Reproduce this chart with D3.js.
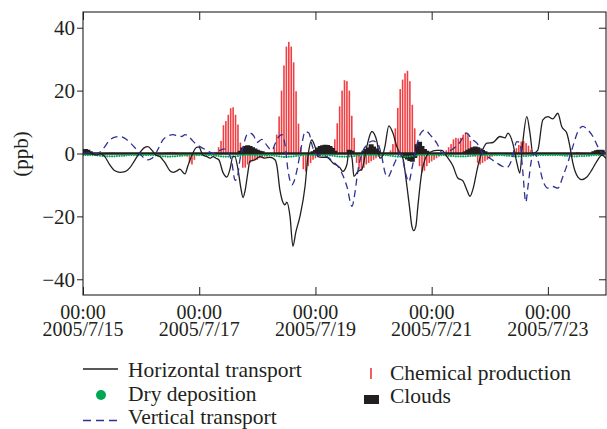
<!DOCTYPE html>
<html>
<head>
<meta charset="utf-8">
<script src="https://cdn.jsdelivr.net/npm/d3@7"></script>
<style>
  body { margin: 0; background: #fff; }
  text { font-family: "Liberation Serif", "Times New Roman", serif; fill: #231f20; }
</style>
</head>
<body>
<svg id="chart" width="607" height="429"></svg>
<script>
// Ozone budget terms at the site, 2005/7/15 00:00 – 2005/7/24 00:00 (ppb per hour)
const startTime = new Date(2005, 6, 15, 0, 0);
const endTime = new Date(2005, 6, 24, 0, 0);
const tickDays = [15, 17, 19, 21, 23];
const tickTimeLabel = "00:00";
const tickDateLabels = ["2005/7/15", "2005/7/17", "2005/7/19", "2005/7/21", "2005/7/23"];
const yTicks = [-40, -20, 0, 20, 40];
const yLabel = "(ppb)";

// [hours since start, ppb]
const horizontalTransport = [
  [0,0],[3,0],[5.8,-0.5],[7,0],[9,-1],[11,-3.5],[13.2,-5.5],[15.3,-6],[17.3,-5.8],[19.4,-4.5],
  [21.5,-2],[23.5,0.3],[25.2,1.8],[26.8,2.2],[28.5,1],[30.1,-0.5],[31.8,-1],[33.9,-3],[35.9,-5.5],
  [37.2,-6],[38.8,-5.5],[40,-5],[42.1,-6.5],[43.3,-4],[45,-0.5],[47.1,2],[47.9,2],[49.5,-0.5],
  [51.2,-1],[52.4,-1.5],[53.7,-1],[54.9,-1.5],[56.1,-2],[57.8,-6],[59.4,-7.5],[60.7,-5],[61.9,-1],
  [62.7,-1],[64,-5],[65.2,-11],[66.1,-14],[66.9,-12],[68.1,-6],[68.9,-2.5],[71,-2],[73.1,-1],
  [75.1,-1.5],[77.2,-1.2],[79.3,-2],[80.1,-4],[81.3,-11.5],[82.2,-14.7],[83.4,-16.3],[84.2,-15.5],
  [85.5,-20],[86.7,-29.5],[87.9,-25],[89.6,-20],[91.7,-10.5],[92.9,-1],[94.5,4.3],[95.8,2.2],
  [97,-1],[98.7,-1.2],[100.7,-1.2],[103.2,-3],[106.1,-4.5],[107.3,-5.7],[109,-3.5],[109.8,0.6],
  [111.1,-1.5],[111.9,-7.3],[113.5,-5.7],[115.2,-5],[117.2,2.2],[119.3,7],[121.4,3.8],[122.6,-1.5],
  [123.4,-1.2],[124.7,2.2],[126.3,8.8],[128,6.5],[129.6,2.2],[130.9,0],[132.1,-1.5],[133.8,-10.5],
  [135,-18],[135.8,-23],[136.6,-24.5],[137.5,-23],[138.3,-16.8],[139.9,-6],[141.2,-2],[143.2,0.3],
  [146.1,1],[148.2,1],[150.3,-1],[152.8,-4],[154.8,-7.8],[156.9,-8.7],[158.5,-11.5],[159.8,-13.6],
  [161,-11.5],[163.1,-4],[165.1,1.2],[166.8,3.3],[169.3,3.5],[172.2,5.4],[174.3,5],[175.5,6.5],
  [177.5,3.3],[179.2,-3],[180.4,-6.2],[181.6,3.3],[183.3,11.7],[184.6,6.5],[185.8,0],[187.8,1],
  [189.9,10.7],[192,11.7],[194,11],[196.1,12.8],[197.7,8.6],[199.8,6.5],[201.1,2.2],[202.3,-3],
  [204.4,-7.5],[206,-8.3],[208.1,-7.5],[210.1,-5.3],[212.2,-2.5],[214.3,-0.5],[216,-1.5]
];

const verticalTransport = [
  [0,0],[2.9,0.3],[5.8,0],[8.3,1.5],[11.1,4.3],[13.2,5.2],[15.3,5.4],[17.3,4.8],[19.4,3.5],
  [21.5,1.8],[23.5,0],[25.2,-1.5],[26.8,-2],[28.5,-1.5],[29.7,-0.5],[31.4,2],[33,4.3],[35.1,5.6],
  [37.2,6],[39.2,5.5],[40.9,5.4],[42.1,6],[43.8,5.3],[45,4.3],[46.7,3],[48.3,2.2],[51.2,1],
  [53.7,0],[55.7,0.6],[58.2,1.5],[60.3,0],[61.5,-3],[62.8,-8.5],[63.6,-8],[64.8,-2],[66.1,2],
  [67.7,6],[68.9,6.5],[70.6,5.5],[71.8,3.5],[73.9,4.5],[76,2.5],[78,1],[79.3,3],[80.9,5.4],
  [82.2,6],[83.4,3],[84.6,-5],[86.3,-10],[87.1,-9],[88.3,-5.5],[90.4,3],[91.7,7],[93.3,6.5],
  [94.5,3],[95.8,0],[97.8,-0.5],[100.7,-1],[103.2,-2.5],[106.1,-5],[109,-10.5],[111.1,-16.8],
  [112.3,-12.5],[113.5,-5.7],[115.2,0],[117.6,3],[119.7,4],[121.8,3],[123.4,-1],[124.7,-6],
  [125.9,-7.5],[127.6,-5],[129.6,-1.5],[130.9,0],[132.1,-2],[133.3,-6.5],[134.6,-9],[135.8,-5],
  [137.1,0],[138.3,4],[139.5,6.5],[141.2,7.5],[143.3,6],[146.1,3.3],[148.6,0],[150.7,0.5],
  [152.3,1.2],[155.6,3.5],[158.5,6.5],[160.6,4.5],[162.7,3.3],[165.1,0],[168,-1.5],[170.9,-3],
  [173,-4],[175,-4.5],[177.1,-2],[179.2,3.8],[180.4,3.5],[181.6,-5.5],[182.9,-15.5],[183.7,-11],
  [185.4,-1.5],[186.6,0],[187.8,-2],[189.9,-8.5],[192,-11],[194,-10.5],[196.1,-11],[198.2,-7.3],
  [200.2,-3],[202.3,2.2],[204.4,7],[206.4,8.6],[208.5,7.5],[210.6,5.4],[212.6,2.2],[214.7,0],[216,0.3]
];

// Hourly values, one row per day
const chemicalProduction = [
  0.5,0.3,-0.2,0,0,0,0,0,0,0,0.2,0.3,0.3,0.3,0.2,0.1,0,0,-0.2,-0.3,-0.3,-0.2,-0.1,0,
  0,0,0,0,0,0,0,0,0,0.2,0.3,0.4,0.5,0.5,0.4,0.3,0.1,0,-0.3,-1,-3,-3.5,-2,-0.5,
  -0.3,0,0,0,0,0,0,0.5,2,4,9,10.3,12.3,14.4,14.7,12.3,9.2,3.5,-4.5,-4.5,-3.5,-3,-2.5,-2,
  -2,-1.5,-1.5,-1,-1,-0.5,0,2,6,11.8,20,28,34,35.5,34,29,19.8,9.5,2,-5,-5.7,-4,-3,-2,
  -1.5,-1,-0.8,-0.5,-0.5,0,0.5,2,4.5,9.6,15,20,23.3,23,20,12,5,-3,-5,-5.5,-4.5,-3.5,-3,-2.5,
  -2,-1.5,-1,-0.8,-0.5,-0.3,0,1,3,8,14.5,20.5,23.5,25.5,26.3,23,15.5,8,2,-4,-6,-5.5,-4,-3,
  -2.5,-2,-1.5,-1,-0.5,0,1,2,3,4.5,5,4.8,5,6,6.7,6.3,4,1.5,-1,-3,-3.5,-3,-2.5,-2,
  -1.5,-1,-0.5,0,0,0,0,0,0,0,1,1.7,2.7,3.8,4,3.3,2.5,1.2,-0.5,-0.5,-0.3,-0.3,-0.2,0,
  0,0,0,0,0,0,0,0,0,0,0.2,0.3,0.5,0.4,0.3,0.2,0,0,-0.2,-0.2,-0.1,0,0,0
];

const clouds = [
  0.8,1,0.8,0.3,0,0,0,0,0,0,0,0,0,0,0,0,0,0,0,0,0,0,0,0,
  0,0,0,0,0,0,0,0,0,0,0,0,0,0,0,0,0,0,0,0,0,0,0,0,
  0,0,0,0,0,0,0,0,0,0,0,0,0,0,0,0,0,0.5,1.5,2,2.2,2,1.6,1.2,
  0.8,0.5,0.3,0,0,0,0,0,0,0,0,0,0,0,0,0,0,0,0,0,0,0,0,0.3,
  0.8,1.5,2,2.2,2.4,2.3,2,1.3,0.5,0,0,0,0,0,0.8,0.5,0,0,0,0,0.5,1,1.5,2.5,
  1.8,1.2,0.5,0,0,0,0,0,0,0,0,0,0,-1,-1.5,-2,-2.2,-1,2.5,3.3,2,1,0.5,0,
  0,0,0,0,0,0,0,0,0,0,0,0,0,0,0.3,0.8,1.2,1.6,1.8,1.6,1.2,0.7,0.3,0,
  0,0,0,0,0,0,0,0,0,0,0,0,0,0,0,0,0,0,0,0,0,0,0,0,
  0,0,0,0,0,0,0,0,0,0,0,0,0,0,0,0,0,0,0,0.3,0.6,0.8,0.8,0.6
];

const dryDeposition = [
  -0.3,-0.3,-0.3,-0.3,-0.3,-0.3,-0.4,-0.5,-0.6,-0.6,-0.7,-0.7,-0.7,-0.7,-0.6,-0.6,-0.5,-0.5,-0.4,-0.3,-0.3,-0.3,-0.3,-0.3,
  -0.3,-0.3,-0.3,-0.3,-0.3,-0.3,-0.4,-0.5,-0.6,-0.7,-0.7,-0.8,-0.8,-0.7,-0.7,-0.6,-0.5,-0.5,-0.4,-0.3,-0.3,-0.3,-0.3,-0.3,
  -0.3,-0.3,-0.3,-0.3,-0.3,-0.3,-0.4,-0.5,-0.6,-0.7,-0.8,-0.8,-0.8,-0.8,-0.7,-0.7,-0.6,-0.5,-0.4,-0.3,-0.3,-0.3,-0.3,-0.3,
  -0.3,-0.3,-0.3,-0.3,-0.3,-0.3,-0.4,-0.5,-0.6,-0.7,-0.8,-0.9,-0.9,-0.8,-0.8,-0.7,-0.6,-0.5,-0.4,-0.3,-0.3,-0.3,-0.3,-0.3,
  -0.3,-0.3,-0.3,-0.3,-0.3,-0.3,-0.4,-0.5,-0.6,-0.7,-0.8,-0.8,-0.8,-0.8,-0.7,-0.7,-0.6,-0.5,-0.4,-0.3,-0.3,-0.3,-0.3,-0.3,
  -0.3,-0.3,-0.3,-0.3,-0.3,-0.3,-0.4,-0.5,-0.6,-0.7,-0.8,-0.8,-0.9,-0.8,-0.8,-0.7,-0.6,-0.5,-0.4,-0.3,-0.3,-0.3,-0.3,-0.3,
  -0.3,-0.3,-0.3,-0.3,-0.3,-0.3,-0.4,-0.5,-0.6,-0.6,-0.7,-0.7,-0.7,-0.7,-0.7,-0.6,-0.6,-0.5,-0.4,-0.3,-0.3,-0.3,-0.3,-0.3,
  -0.3,-0.3,-0.3,-0.3,-0.3,-0.3,-0.4,-0.5,-0.5,-0.6,-0.7,-0.7,-0.7,-0.7,-0.6,-0.6,-0.5,-0.5,-0.4,-0.3,-0.3,-0.3,-0.3,-0.3,
  -0.3,-0.3,-0.3,-0.3,-0.3,-0.3,-0.4,-0.5,-0.5,-0.6,-0.6,-0.7,-0.7,-0.6,-0.6,-0.6,-0.5,-0.5,-0.4,-0.3,-0.3,-0.3,-0.3,-0.3
];

const legendLeft = ["Horizontal transport", "Dry deposition", "Vertical transport"];
const legendRight = ["Chemical production", "Clouds"];

const colors = {
  horizontal: "#231f20",
  vertical: "#2e3192",
  chemical: "#ee2a2f",
  clouds: "#231f20",
  dry: "#00a651",
  ink: "#231f20"
};

const margin = { left: 83, right: 606, top: 12, bottom: 295 };
const svg = d3.select("#chart");

const hourToDate = h => new Date(startTime.getTime() + h * 3600 * 1000);

const x = d3.scaleTime().domain([startTime, endTime]).range([margin.left, margin.right]);
const y = d3.scaleLinear().domain([-45, 45]).range([margin.bottom, margin.top]);

svg.append("defs").append("clipPath").attr("id", "plotClip")
  .append("rect")
  .attr("x", margin.left).attr("y", margin.top)
  .attr("width", margin.right - margin.left).attr("height", margin.bottom - margin.top);

const plot = svg.append("g").attr("clip-path", "url(#plotClip)");

// chemical production: hourly bars
plot.append("g").selectAll("rect")
  .data(chemicalProduction)
  .join("rect")
  .attr("x", (d, i) => x(hourToDate(i)) - 0.8)
  .attr("width", 1.6)
  .attr("y", d => Math.min(y(d), y(0)))
  .attr("height", d => Math.abs(y(d) - y(0)))
  .attr("fill", colors.chemical)
  .attr("opacity", 0.9);

// clouds: stepped black band about zero
const cloudArea = d3.area()
  .x((d, i) => x(hourToDate(i)))
  .y0(y(0))
  .y1(d => y(d))
  .curve(d3.curveStep);
plot.append("path")
  .datum(clouds)
  .attr("d", cloudArea)
  .attr("fill", colors.clouds)
  .attr("stroke", colors.clouds)
  .attr("stroke-width", 2.6)
  .attr("stroke-linejoin", "miter");

// dry deposition: hourly dots
plot.append("g").selectAll("circle")
  .data(dryDeposition)
  .join("circle")
  .attr("cx", (d, i) => x(hourToDate(i)))
  .attr("cy", d => y(d) + 0.6)
  .attr("r", 1.1)
  .attr("fill", colors.dry);

const line = d3.line()
  .x(d => x(hourToDate(d[0])))
  .y(d => y(d[1]))
  .curve(d3.curveMonotoneX);

plot.append("path")
  .datum(horizontalTransport)
  .attr("d", line)
  .attr("fill", "none")
  .attr("stroke", colors.horizontal)
  .attr("stroke-width", 1.3);

plot.append("path")
  .datum(verticalTransport)
  .attr("d", line)
  .attr("fill", "none")
  .attr("stroke", colors.vertical)
  .attr("stroke-width", 1.3)
  .attr("stroke-dasharray", "7,4.5");

// axes
const tickDates = tickDays.map(d => new Date(2005, 6, d, 0, 0));
const fmtY = d3.format("d");

const leftAxis = svg.append("g")
  .attr("transform", `translate(${margin.left},0)`)
  .call(d3.axisLeft(y).tickValues(yTicks).tickSize(6).tickPadding(2).tickFormat(fmtY));
const rightAxis = svg.append("g")
  .attr("transform", `translate(${margin.right},0)`)
  .call(d3.axisRight(y).tickValues(yTicks).tickSize(-7).tickFormat(""));
const bottomAxis = svg.append("g")
  .attr("transform", `translate(0,${margin.bottom})`)
  .call(d3.axisBottom(x).tickValues(tickDates).tickSize(-8).tickFormat(""));
const topAxis = svg.append("g")
  .attr("transform", `translate(0,${margin.top})`)
  .call(d3.axisTop(x).tickValues(tickDates).tickSize(-8).tickFormat(""));

[leftAxis, rightAxis, bottomAxis, topAxis].forEach(g => {
  g.select(".domain").remove();
  g.selectAll(".tick line").attr("stroke", colors.ink).attr("stroke-width", 1);
  g.attr("font-family", null).attr("font-size", null);
});
leftAxis.selectAll(".tick text").attr("font-size", 21).attr("fill", colors.ink);

svg.append("rect")
  .attr("x", margin.left).attr("y", margin.top)
  .attr("width", margin.right - margin.left).attr("height", margin.bottom - margin.top)
  .attr("fill", "none").attr("stroke", colors.ink).attr("stroke-width", 1.1);

// two-line time labels under the bottom axis (one text block per tick)
const xLabels = svg.append("g").attr("font-size", 20).attr("text-anchor", "middle");
tickDates.forEach((d, i) => {
  const t = xLabels.append("text").attr("x", x(d)).attr("y", 318.5);
  t.append("tspan").attr("x", x(d)).text(tickTimeLabel);
  t.append("tspan").attr("x", x(d)).attr("dy", 17.5).text(tickDateLabels[i]);
});

svg.append("text")
  .attr("transform", "translate(28,154) rotate(-90)")
  .attr("text-anchor", "middle")
  .attr("font-size", 21)
  .text(yLabel);

// legend
const legend = svg.append("g").attr("font-size", 21.5);
legend.append("line").attr("x1", 83).attr("x2", 118).attr("y1", 369).attr("y2", 369)
  .attr("stroke", colors.horizontal).attr("stroke-width", 1.3);
legend.append("text").attr("x", 128).attr("y", 376.5).text(legendLeft[0]);
legend.append("circle").attr("cx", 101).attr("cy", 395).attr("r", 5).attr("fill", colors.dry);
legend.append("text").attr("x", 128).attr("y", 400.5).text(legendLeft[1]);
legend.append("line").attr("x1", 83).attr("x2", 118).attr("y1", 420.5).attr("y2", 420.5)
  .attr("stroke", colors.vertical).attr("stroke-width", 1.3).attr("stroke-dasharray", "8,5");
legend.append("text").attr("x", 128).attr("y", 424.3).text(legendLeft[2]);

legend.append("line").attr("x1", 371).attr("x2", 371).attr("y1", 368).attr("y2", 379)
  .attr("stroke", colors.chemical).attr("stroke-width", 1.5);
legend.append("text").attr("x", 390).attr("y", 380).text(legendRight[0]);
legend.append("rect").attr("x", 364).attr("y", 395).attr("width", 15).attr("height", 9)
  .attr("fill", colors.clouds);
legend.append("text").attr("x", 390).attr("y", 403).text(legendRight[1]);
</script>
</body>
</html>
